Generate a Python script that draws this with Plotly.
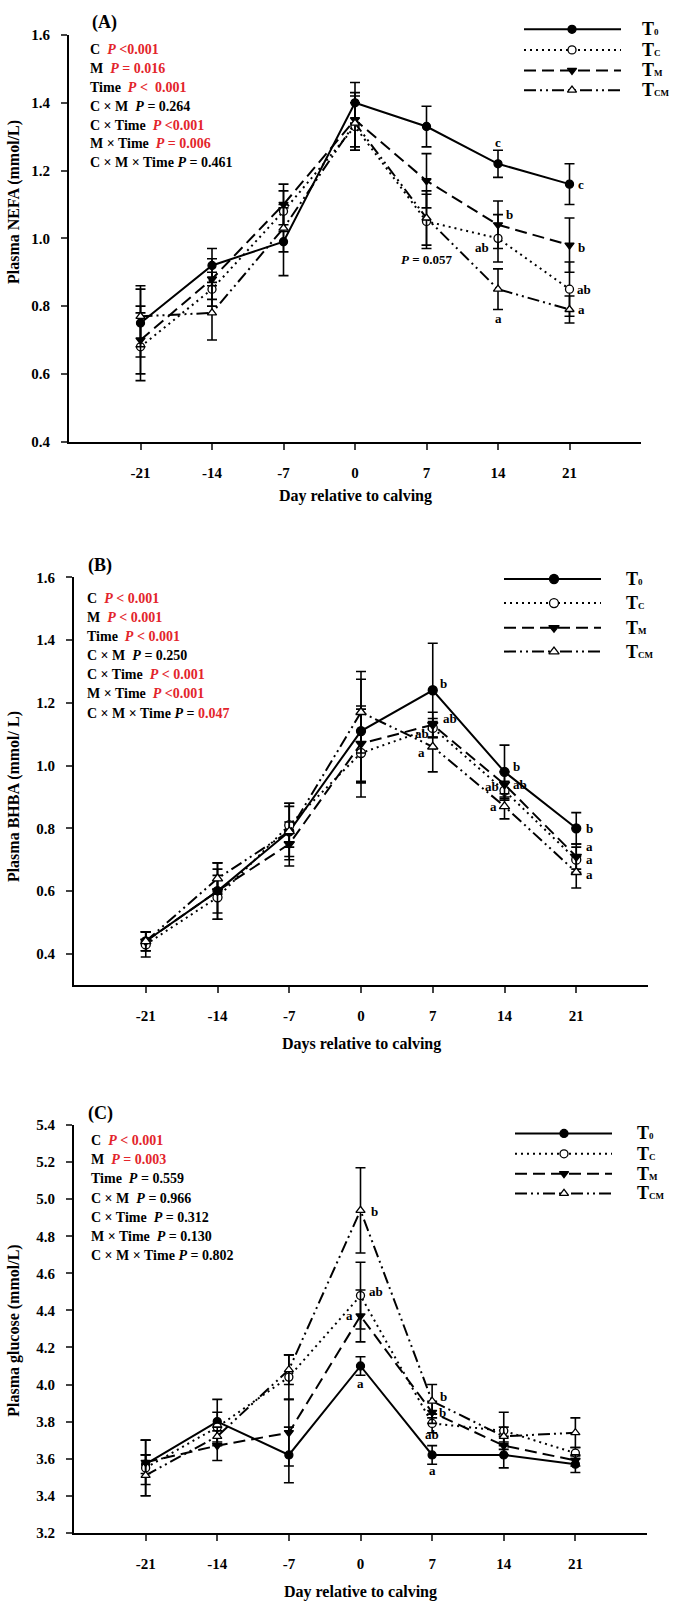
import plotly.graph_objects as go

W, H = 673, 1615

# ---------------- data ----------------
days = [-21, -14, -7, 0, 7, 14, 21]
day_labels = ["-21", "-14", "-7", "0", "7", "14", "21"]
series_base = "T"
series_subs = ["0", "C", "M", "CM"]

# Panel A: plasma NEFA (mmol/L)
nefa_T0 = [0.75, 0.92, 0.99, 1.40, 1.33, 1.22, 1.16]
nefa_TC = [0.68, 0.85, 1.08, 1.33, 1.05, 1.00, 0.85]
nefa_TM = [0.70, 0.88, 1.10, 1.35, 1.17, 1.04, 0.98]
nefa_TCM = [0.77, 0.78, 1.03, 1.34, 1.06, 0.85, 0.79]
nefa_T0_se = [0.10, 0.05, 0.10, 0.06, 0.06, 0.04, 0.06]
nefa_TC_se = [0.10, 0.05, 0.06, 0.07, 0.08, 0.07, 0.08]
nefa_TM_se = [0.10, 0.06, 0.06, 0.08, 0.08, 0.07, 0.08]
nefa_TCM_se = [0.09, 0.08, 0.07, 0.08, 0.08, 0.06, 0.04]

# Panel B: plasma BHBA (mmol/L)
bhba_T0 = [0.44, 0.60, 0.79, 1.11, 1.24, 0.98, 0.80]
bhba_TC = [0.43, 0.58, 0.81, 1.04, 1.12, 0.92, 0.70]
bhba_TM = [0.44, 0.60, 0.75, 1.07, 1.13, 0.94, 0.71]
bhba_TCM = [0.44, 0.64, 0.79, 1.17, 1.06, 0.87, 0.66]
bhba_T0_se = [0.03, 0.09, 0.09, 0.165, 0.15, 0.085, 0.05]
bhba_TC_se = [0.04, 0.07, 0.07, 0.14, 0.03, 0.03, 0.04]
bhba_TM_se = [0.03, 0.07, 0.07, 0.12, 0.04, 0.04, 0.04]
bhba_TCM_se = [0.03, 0.05, 0.08, 0.13, 0.08, 0.04, 0.05]

# Panel C: plasma glucose (mmol/L)
glu_T0 = [3.57, 3.80, 3.62, 4.10, 3.62, 3.62, 3.57]
glu_TC = [3.55, 3.77, 4.04, 4.48, 3.79, 3.75, 3.63]
glu_TM = [3.58, 3.67, 3.74, 4.37, 3.85, 3.67, 3.59]
glu_TCM = [3.51, 3.72, 4.08, 4.94, 3.91, 3.72, 3.74]
glu_T0_se = [0.05, 0.12, 0.15, 0.05, 0.05, 0.07, 0.045]
glu_TC_se = [0.15, 0.08, 0.12, 0.18, 0.05, 0.10, 0.03]
glu_TM_se = [0.12, 0.08, 0.18, 0.14, 0.06, 0.05, 0.03]
glu_TCM_se = [0.11, 0.05, 0.08, 0.23, 0.09, 0.05, 0.08]

nefa_ticks = [0.4, 0.6, 0.8, 1.0, 1.2, 1.4, 1.6]
bhba_ticks = [0.4, 0.6, 0.8, 1.0, 1.2, 1.4, 1.6]
glu_ticks = [3.2, 3.4, 3.6, 3.8, 4.0, 4.2, 4.4, 4.6, 4.8, 5.0, 5.2, 5.4]

RED = "#e3242b"
def red(s):
    return f"<span style='color:{RED}'>{s}</span>"
P = "<i>P</i>"

stats_A = [
    "C  " + red(f"{P} &lt;0.001"),
    "M  " + red(f"{P} = 0.016"),
    "Time  " + red(f"{P} &lt;  0.001"),
    f"C × M  {P} = 0.264",
    "C × Time  " + red(f"{P} &lt;0.001"),
    "M × Time  " + red(f"{P} = 0.006"),
    f"C × M × Time {P} = 0.461",
]
stats_B = [
    "C  " + red(f"{P} &lt; 0.001"),
    "M  " + red(f"{P} &lt; 0.001"),
    "Time  " + red(f"{P} &lt; 0.001"),
    f"C × M  {P} = 0.250",
    "C × Time  " + red(f"{P} &lt; 0.001"),
    "M × Time  " + red(f"{P} &lt;0.001"),
    f"C × M × Time {P} = " + red("0.047"),
]
stats_C = [
    "C  " + red(f"{P} &lt; 0.001"),
    "M  " + red(f"{P} = 0.003"),
    f"Time  {P} = 0.559",
    f"C × M  {P} = 0.966",
    f"C × Time  {P} = 0.312",
    f"M × Time  {P} = 0.130",
    f"C × M × Time {P} = 0.802",
]

# ---------------- styles ----------------
FONT = "Liberation Serif, Times New Roman, serif"
styles = [
    dict(dash="solid", symbol="circle", fill="black"),
    dict(dash="2px,4px", symbol="circle", fill="white"),
    dict(dash="12px,6px", symbol="triangle-down", fill="black"),
    dict(dash="12px,4px,2px,4px,2px,4px", symbol="triangle-up", fill="white"),
]

def px2x(px):
    return px / W

def px2y(py):
    return 1 - py / H

def bfont(size):
    return dict(family=FONT, size=size, color="black", weight="bold")

panels = [
    dict(ax="", means=[nefa_T0, nefa_TC, nefa_TM, nefa_TCM],
         ses=[nefa_T0_se, nefa_TC_se, nefa_TM_se, nefa_TCM_se],
         xdom=[69, 641], ydom=[27.3, 438], yrange=[0.4, 1.6], ticks=nefa_ticks,
         ytitle="Plasma NEFA (mmol/L)", ytitle_y=196, xtitle="Day relative to calving", xtitle_y=493,
         label="(A)", label_xy=(90, 15), stats=stats_A, stats_x=88,
         stats_y=[41.7, 60.7, 80, 99.3, 118.3, 137.3, 156],
         leg_x=(524, 621, 572, 640), leg_y=[21.5, 42.3, 63, 83], msize=8),
    dict(ax="2", means=[bhba_T0, bhba_TC, bhba_TM, bhba_TCM],
         ses=[bhba_T0_se, bhba_TC_se, bhba_TM_se, bhba_TCM_se],
         xdom=[74, 648], ydom=[575, 987], yrange=[0.3, 1.6], ticks=bhba_ticks,
         ytitle="Plasma BHBA (mmol/ L)", ytitle_y=797, xtitle="Days relative to calving", xtitle_y=1046,
         label="(B)", label_xy=(86, 563), stats=stats_B, stats_x=85,
         stats_y=[596.7, 615.7, 635, 654.3, 673.3, 692.7, 712.3],
         leg_x=(504, 601, 554, 624), leg_y=[576.7, 601, 626, 650], msize=9),
    dict(ax="3", means=[glu_T0, glu_TC, glu_TM, glu_TCM],
         ses=[glu_T0_se, glu_TC_se, glu_TM_se, glu_TCM_se],
         xdom=[74, 647], ydom=[1128.3, 1540], yrange=[3.2, 5.4], ticks=glu_ticks,
         ytitle="Plasma glucose (mmol/L)", ytitle_y=1336, xtitle="Day relative to calving", xtitle_y=1600,
         label="(C)", label_xy=(86, 1117), stats=stats_C, stats_x=89,
         stats_y=[1144, 1163.3, 1182.7, 1202.3, 1221.7, 1240.7, 1260],
         leg_x=(515, 612, 564, 635), leg_y=[1136.7, 1157.3, 1177.3, 1197.3], msize=8),
]

# significance letters: (panel index, series index, day index, text, xanchor, xshift, yshift)
letters = [
    (0, 0, 5, "c", "center", 0, 21), (0, 0, 6, "c", "left", 6, 0),
    (0, 2, 5, "b", "left", 6, 10), (0, 1, 5, "ab", "right", -7, -9),
    (0, 3, 5, "a", "center", 0, -29), (0, 2, 6, "b", "left", 6, -2),
    (0, 1, 6, "ab", "left", 5, 0), (0, 3, 6, "a", "left", 6, 0),
    (1, 0, 4, "b", "left", 5, 7), (1, 2, 4, "ab", "left", 8, 6),
    (1, 1, 4, "ab", "right", -2, -6), (1, 3, 4, "a", "right", -6, -6),
    (1, 0, 5, "b", "left", 6, 5), (1, 2, 5, "ab", "left", 6, 0),
    (1, 1, 5, "ab", "right", -4, 4), (1, 3, 5, "a", "right", -6, 0),
    (1, 0, 6, "b", "left", 8, 0), (1, 2, 6, "a", "left", 8, 10),
    (1, 1, 6, "a", "left", 8, 0), (1, 3, 6, "a", "left", 8, -2),
    (2, 0, 3, "a", "center", 0, -18), (2, 2, 3, "a", "right", -6, 0),
    (2, 1, 3, "ab", "left", 6, 4), (2, 3, 3, "b", "left", 8, -1),
    (2, 0, 4, "a", "center", 0, -16), (2, 3, 4, "b", "left", 6, 5),
    (2, 2, 4, "b", "left", 5, 0), (2, 1, 4, "ab", "center", 0, -11),
]

fig = go.Figure()
annotations = []

for pi, p in enumerate(panels):
    xa, ya = "x" + p["ax"], "y" + p["ax"]
    for si in range(4):
        st = styles[si]
        fig.add_trace(go.Scatter(
            x=days, y=p["means"][si], xaxis=xa, yaxis=ya, mode="lines+markers",
            line=dict(color="black", width=2, dash=st["dash"]),
            marker=dict(symbol=st["symbol"], size=p["msize"], color=st["fill"],
                        line=dict(color="black", width=1.3)),
            error_y=dict(type="data", array=p["ses"][si], visible=True,
                         color="black", thickness=1.6, width=5),
            showlegend=False, cliponaxis=False, hoverinfo="skip"))
    # axes
    fig.layout["xaxis" + p["ax"]] = dict(
        domain=[px2x(p["xdom"][0]), px2x(p["xdom"][1])], range=[-28, 28],
        tickvals=days, ticktext=day_labels, ticks="outside", ticklen=6, tickwidth=2,
        showline=True, linewidth=2, linecolor="black", showgrid=False, zeroline=False,
        anchor=ya, ticklabelstandoff=10, tickfont=bfont(15))
    fig.layout["yaxis" + p["ax"]] = dict(
        domain=[px2y(p["ydom"][1]), px2y(p["ydom"][0])], range=p["yrange"],
        tickvals=p["ticks"], tickformat=".1f", ticks="outside", ticklen=6, tickwidth=2,
        showline=True, linewidth=2, linecolor="black", showgrid=False, zeroline=False,
        anchor=xa, ticklabelstandoff=8, tickfont=bfont(15))
    # titles
    annotations.append(dict(text=p["ytitle"], xref="paper", yref="paper",
                            x=px2x(14), y=px2y(p["ytitle_y"]), textangle=-90, showarrow=False,
                            xanchor="center", yanchor="middle", font=bfont(16)))
    annotations.append(dict(text=p["xtitle"], xref="paper", yref="paper",
                            x=px2x((p["xdom"][0] + p["xdom"][1]) / 2), y=px2y(p["xtitle_y"]),
                            showarrow=False, xanchor="center", yanchor="middle", font=bfont(16)))
    annotations.append(dict(text=p["label"], xref="paper", yref="paper",
                            x=px2x(p["label_xy"][0]), y=px2y(p["label_xy"][1]),
                            showarrow=False, xanchor="left", yanchor="middle", font=bfont(18)))
    for txt, yy in zip(p["stats"], p["stats_y"]):
        annotations.append(dict(text=txt, xref="paper", yref="paper",
                                x=px2x(p["stats_x"]), y=px2y(yy), showarrow=False,
                                xanchor="left", yanchor="middle", font=bfont(14)))
    # legend (drawn on overlay axis in pixel units)
    x0, x1, xm, xt = p["leg_x"]
    for si in range(4):
        st = styles[si]
        yy = p["leg_y"][si]
        fig.add_trace(go.Scatter(x=[x0, x1], y=[yy, yy], xaxis="x4", yaxis="y4", mode="lines",
                                 line=dict(color="black", width=2, dash=st["dash"]),
                                 showlegend=False, hoverinfo="skip"))
        fig.add_trace(go.Scatter(x=[xm], y=[yy], xaxis="x4", yaxis="y4", mode="markers",
                                 marker=dict(symbol=st["symbol"], size=p["msize"], color=st["fill"],
                                             line=dict(color="black", width=1.3)),
                                 showlegend=False, hoverinfo="skip"))
        annotations.append(dict(text=series_base, xref="paper", yref="paper",
                                x=px2x(xt), y=px2y(yy), showarrow=False, xanchor="left",
                                yanchor="middle", font=bfont(18)))
        annotations.append(dict(text=series_subs[si], xref="paper", yref="paper",
                                x=px2x(xt + 11.5), y=px2y(yy + 3), showarrow=False,
                                xanchor="left", yanchor="middle", font=bfont(9)))

# letters
for (pi, si, di, txt, xanc, xs, ys) in letters:
    p = panels[pi]
    annotations.append(dict(text=txt, xref="x" + p["ax"], yref="y" + p["ax"],
                            x=days[di], y=p["means"][si][di], showarrow=False,
                            xanchor=xanc, yanchor="middle", xshift=xs, yshift=ys, font=bfont(13)))
# P = 0.057 note (panel A, TC at day 7)
annotations.append(dict(text="<i>P</i> = 0.057", xref="x", yref="y",
                        x=days[4], y=nefa_TC[4], showarrow=False, xanchor="center",
                        yanchor="middle", yshift=-38, font=bfont(13)))

fig.update_layout(
    width=W, height=H, margin=dict(l=0, r=0, t=0, b=0),
    paper_bgcolor="white", plot_bgcolor="rgba(0,0,0,0)",
    xaxis4=dict(domain=[0, 1], range=[0, W], visible=False, anchor="y4"),
    yaxis4=dict(domain=[0, 1], range=[H, 0], visible=False, anchor="x4"),
    annotations=annotations, showlegend=False,
    font=dict(family=FONT, color="black"),
)

fig.write_html("out.html", config={"displayModeBar": False},
               post_script="document.body.style.margin='0';")
